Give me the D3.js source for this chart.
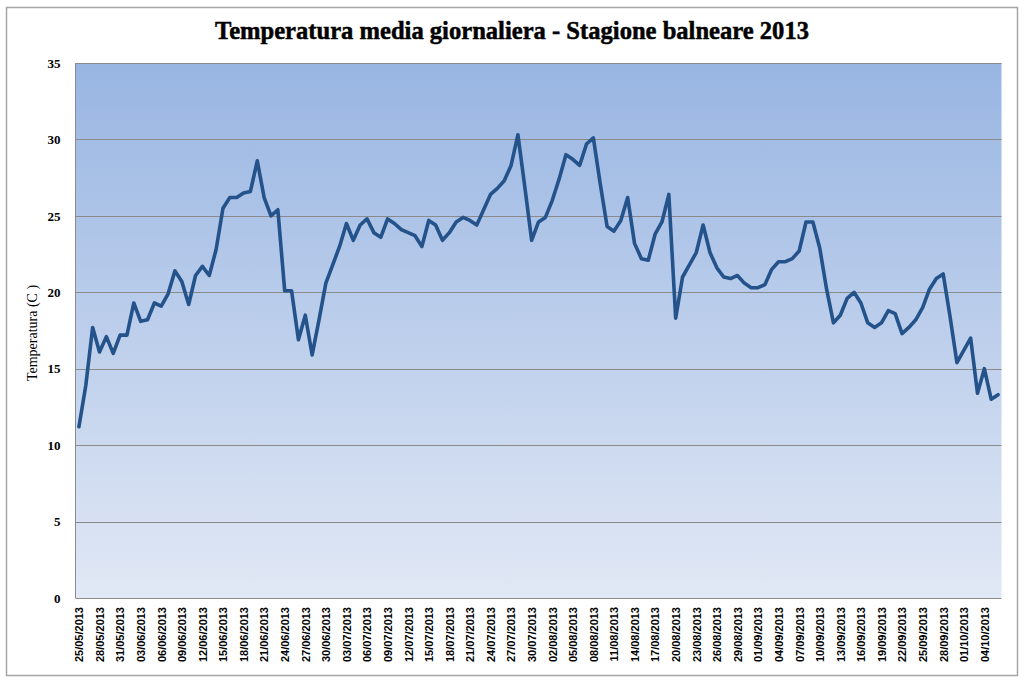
<!DOCTYPE html>
<html><head><meta charset="utf-8">
<script src="https://cdn.jsdelivr.net/npm/d3@7"></script>
<style>body{margin:0;background:#fff}svg{display:block}</style>
</head><body>
<svg id="chart" width="1024" height="682"></svg>
<script>
const title = "Temperatura media giornaliera - Stagione balneare 2013";
const yLabel = "Temperatura (C )";
const startDate = "25/05/2013";
const values = [
11.2,13.9,17.7,16.1,17.1,16.0,17.2,17.2,19.3,18.1,
18.2,19.3,19.1,19.9,21.4,20.7,19.2,21.1,21.7,21.1,
22.8,25.5,26.2,26.2,26.5,26.6,28.6,26.2,25.0,25.4,
20.1,20.1,16.9,18.5,15.9,18.2,20.6,21.8,23.0,24.5,
23.4,24.4,24.8,23.9,23.6,24.8,24.5,24.1,23.9,23.7,
23.0,24.7,24.4,23.4,23.9,24.6,24.9,24.7,24.4,25.4,
26.4,26.8,27.3,28.3,30.3,26.9,23.4,24.6,24.9,26.0,
27.4,29.0,28.7,28.3,29.7,30.1,27.1,24.3,24.0,24.7,
26.2,23.2,22.2,22.1,23.8,24.6,26.4,18.3,21.0,21.8,
22.6,24.4,22.6,21.6,21.0,20.9,21.1,20.6,20.3,20.3,
20.5,21.5,22.0,22.0,22.2,22.7,24.6,24.6,22.9,20.2,
18.0,18.5,19.6,20.0,19.3,18.0,17.7,18.0,18.8,18.6,
17.3,17.7,18.2,19.0,20.2,20.9,21.2,18.4,15.4,16.2,
17.0,13.4,15.0,13.0,13.3];
const tickLabels = [
"25/05/2013","28/05/2013","31/05/2013","03/06/2013","06/06/2013","09/06/2013","12/06/2013",
"15/06/2013","18/06/2013","21/06/2013","24/06/2013","27/06/2013","30/06/2013","03/07/2013",
"06/07/2013","09/07/2013","12/07/2013","15/07/2013","18/07/2013","21/07/2013","24/07/2013",
"27/07/2013","30/07/2013","02/08/2013","05/08/2013","08/08/2013","11/08/2013","14/08/2013",
"17/08/2013","20/08/2013","23/08/2013","26/08/2013","29/08/2013","01/09/2013","04/09/2013",
"07/09/2013","10/09/2013","13/09/2013","16/09/2013","19/09/2013","22/09/2013","25/09/2013",
"28/09/2013","01/10/2013","04/10/2013"];
const yTicks = [0,5,10,15,20,25,30,35];

const parse = d3.timeParse("%d/%m/%Y"), fmt = d3.timeFormat("%d/%m/%Y");
const d0 = parse(startDate);
const categories = values.map((v,i)=>fmt(d3.timeDay.offset(d0,i)));

const svg = d3.select("#chart");
const defs = svg.append("defs");
const g1 = defs.append("linearGradient").attr("id","bg").attr("x1",0).attr("y1",0).attr("x2",0).attr("y2",1);
g1.append("stop").attr("offset","0%").attr("stop-color","#98b5e2");
g1.append("stop").attr("offset","100%").attr("stop-color","#e1e8f5");

// outer frame
svg.append("rect").attr("x",6.5).attr("y",7.5).attr("width",1011).attr("height",668)
  .attr("fill","#fff").attr("stroke","#a6a6a6").attr("stroke-width",1.5);

const L=75.5, R=1001.5, T=63, B=598;
const x = d3.scalePoint().domain(categories).range([L,R]).padding(0.5);
const y = d3.scaleLinear().domain([0,35]).range([B,T]);

svg.append("rect").attr("x",L).attr("y",T).attr("width",R-L).attr("height",B-T).attr("fill","url(#bg)");

// gridlines
svg.append("g").selectAll("line").data(yTicks.filter(t=>t>0)).join("line")
  .attr("x1",L).attr("x2",R).attr("y1",d=>Math.round(y(d))+0.5).attr("y2",d=>Math.round(y(d))+0.5)
  .attr("stroke","#8a8a8a").attr("stroke-width",1);

// axes lines
svg.append("line").attr("x1",L).attr("x2",L).attr("y1",T).attr("y2",B).attr("stroke","#8a8a8a");
svg.append("line").attr("x1",L).attr("x2",R).attr("y1",B+0.5).attr("y2",B+0.5).attr("stroke","#8a8a8a");

// y axis
const ya = svg.append("g").attr("transform",`translate(${L},0)`)
  .call(d3.axisLeft(y).tickValues(yTicks).tickSize(0).tickPadding(15));
ya.select(".domain").remove();
ya.selectAll("text").attr("font-family","Liberation Serif, serif").attr("font-weight","bold")
  .attr("font-size",13).attr("fill","#000");

// x axis
const xa = svg.append("g").attr("transform",`translate(0,${B})`)
  .call(d3.axisBottom(x).tickValues(categories.filter(c=>tickLabels.includes(c))).tickSize(0));
xa.select(".domain").remove();
xa.selectAll("text").attr("font-family","Liberation Sans, Arial, sans-serif").attr("font-weight","bold")
  .attr("font-size",11).attr("fill","#000")
  .attr("transform","rotate(-90)").attr("text-anchor","end").attr("dy","0.35em").attr("dx",0).attr("x",-9).attr("y",0);

// line
svg.append("path").datum(values)
  .attr("d", d3.line().x((d,i)=>x(categories[i])).y(d=>y(d)))
  .attr("fill","none").attr("stroke","#24528a").attr("stroke-width",3.6)
  .attr("stroke-linejoin","round").attr("stroke-linecap","round");

// title
svg.append("text").attr("x",512).attr("y",39).attr("text-anchor","middle")
  .attr("font-family","Liberation Serif, serif").attr("font-weight","bold").attr("font-size",25)
  .attr("stroke","#000").attr("stroke-width",0.5)
  .attr("textLength",594).attr("lengthAdjust","spacingAndGlyphs").text(title);

// y label
svg.append("text").attr("transform","translate(37,333) rotate(-90)").attr("text-anchor","middle")
  .attr("font-family","Liberation Serif, serif").attr("font-size",14).text(yLabel);
</script>
</body></html>
